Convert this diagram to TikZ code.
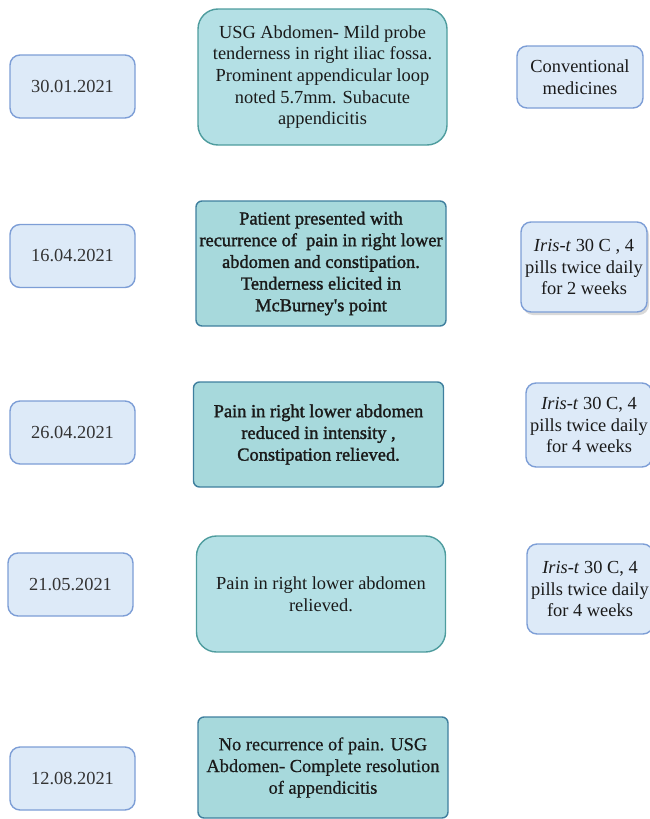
\documentclass[tikz,border=0pt]{standalone}
\usepackage{fontspec}
\setmainfont{Liberation Serif}
\newfontfamily\heavyfont[FakeBold=1.6]{Liberation Serif}
\newfontfamily\semifont[FakeBold=0.6]{Liberation Serif}
\usetikzlibrary{shadows}

\definecolor{datefill}{HTML}{DDEAF8}
\definecolor{dateline}{HTML}{7D9ED6}
\definecolor{findfill}{HTML}{B4E0E5}
\definecolor{findline}{HTML}{4E9C9E}
\definecolor{darkfill}{HTML}{A7D9DC}
\definecolor{darkline}{HTML}{3F7F9E}
\definecolor{inktext}{HTML}{1A1A1A}

\tikzset{
  box/.style={draw, line width=1.4pt, align=center, inner sep=1pt,
    text=inktext, font=\fontsize{18.4}{21.7}\selectfont},
  datebox/.style={box, fill=datefill, draw=dateline, rounded corners=10pt,
    minimum width=125pt, minimum height=63pt, text=black!80},
  rxbox/.style={box, fill=datefill, draw=dateline, rounded corners=10pt,
    minimum width=126pt},
  findbox/.style={box, fill=findfill, draw=findline, rounded corners=20pt,
    minimum width=249pt},
  darkbox/.style={box, fill=darkfill, draw=darkline, rounded corners=6pt,
    minimum width=250pt},
}

\begin{document}
\begin{tikzpicture}[x=1pt,y=-1pt]
\useasboundingbox (0,0) rectangle (650,819);

% dates
\node (d1) [datebox] at (72.5,86.5) {30.01.2021};
\node (d2) [datebox] at (72.5,256) {16.04.2021};
\node (d3) [datebox] at (72.5,432.5) {26.04.2021};
\node (d4) [datebox] at (70.5,584.5) {21.05.2021};
\node (d5) [datebox] at (72.5,778.5) {12.08.2021};

% findings
\node (f1) [findbox, minimum height=136pt] at (322.5,77)
  {USG Abdomen- Mild probe\\tenderness in right iliac fossa.\\
   Prominent appendicular loop\\noted 5.7mm. Subacute\\appendicitis};
\node (f2) [darkbox, minimum height=125pt, font=\fontsize{18.4}{21.7}\heavyfont]
  at (321,263.5)
  {Patient presented with\\recurrence of\ \ pain in right lower\\
   abdomen and constipation.\\Tenderness elicited in\\McBurney's point};
\node (f3) [darkbox, minimum height=105pt, font=\fontsize{18.4}{21.7}\heavyfont]
  at (318.5,434.5)
  {Pain in right lower abdomen\\reduced in intensity ,\\Constipation relieved.};
\node (f4) [findbox, minimum height=116pt] at (321,594)
  {Pain in right lower abdomen\\relieved.};
\node (f5) [darkbox, minimum height=101pt, font=\fontsize{18.4}{21.7}\semifont]
  at (323,767.5)
  {No recurrence of pain. USG\\Abdomen- Complete resolution\\of appendicitis};

% treatment
\node (r1) [rxbox, minimum height=62pt] at (580,77) {Conventional\\medicines};
\node (r2) [rxbox, minimum height=90pt,
  drop shadow={shadow xshift=2pt, shadow yshift=-3pt, opacity=.3}] at (584,267)
  {\textit{Iris-t} 30 C , 4\\pills twice daily\\for 2 weeks};
\node (r3) [rxbox, minimum height=84pt] at (589,425)
  {\textit{Iris-t} 30 C, 4\\pills twice daily\\for 4 weeks};
\node (r4) [rxbox, minimum height=90pt] at (590,589)
  {\textit{Iris-t} 30 C, 4\\pills twice daily\\for 4 weeks};
\end{tikzpicture}
\end{document}
